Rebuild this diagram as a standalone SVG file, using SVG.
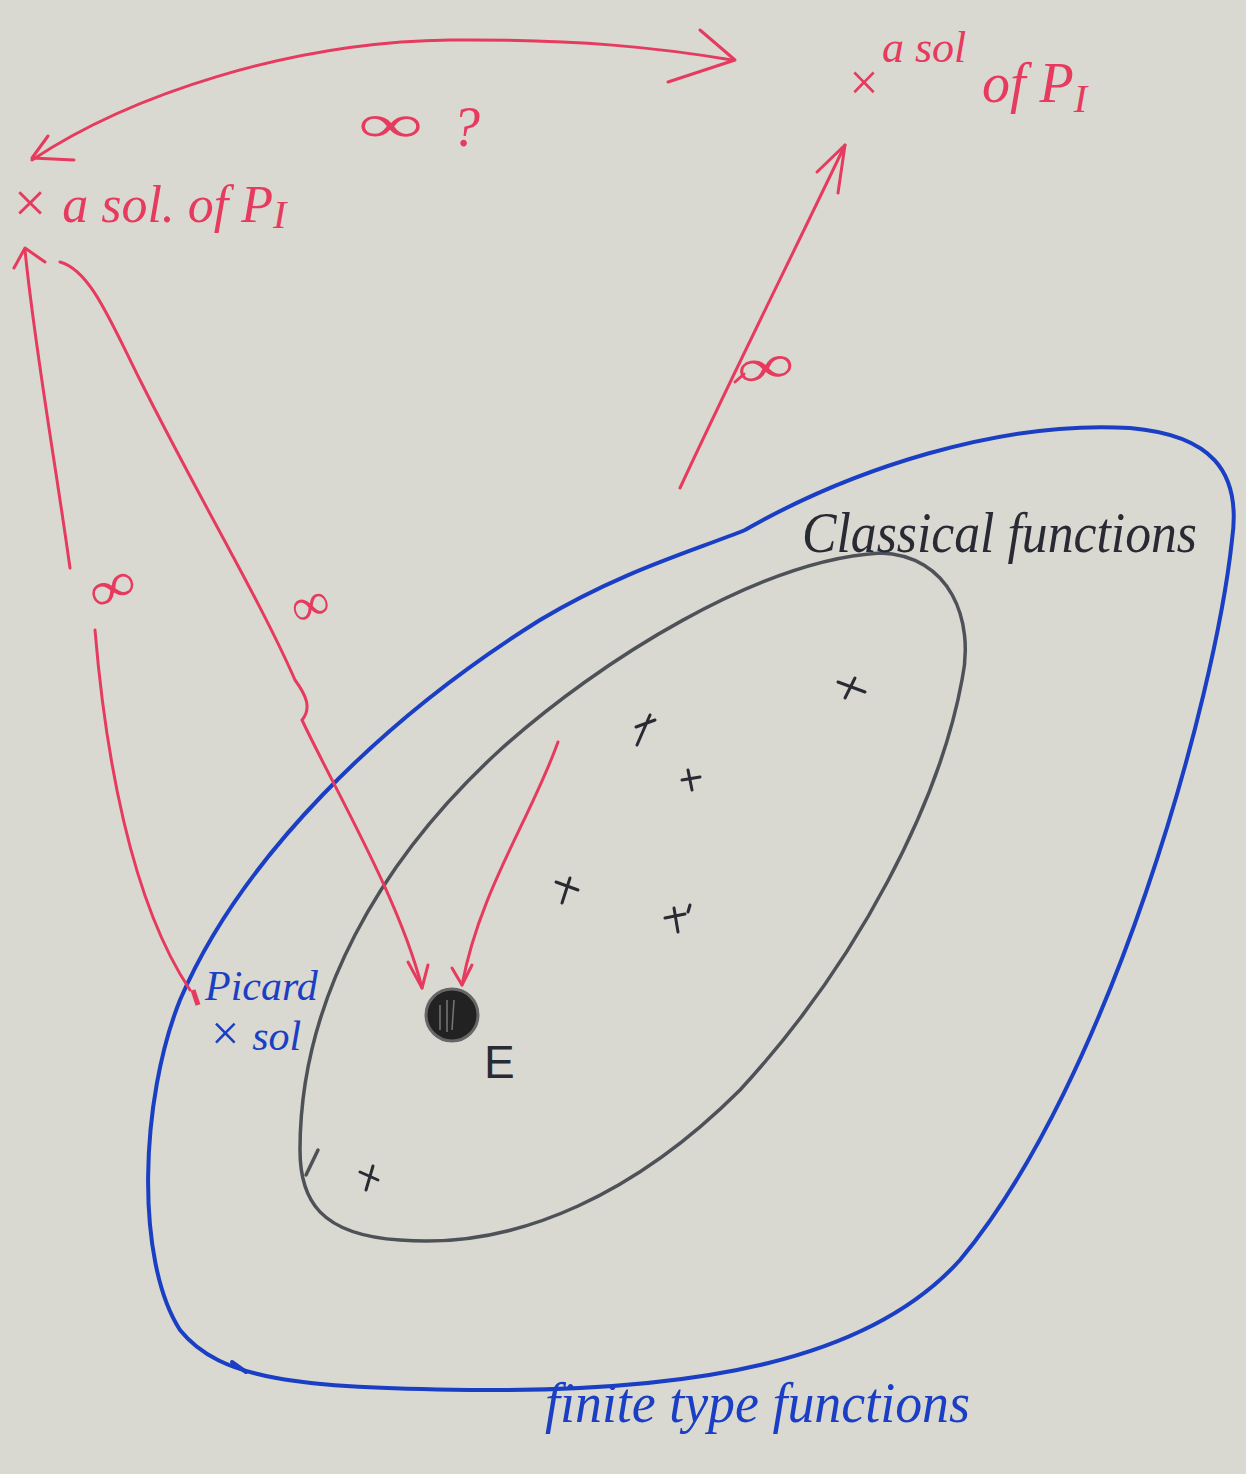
<svg xmlns="http://www.w3.org/2000/svg" width="1246" height="1474" viewBox="0 0 1246 1474">
<style>
.red{fill:none;stroke:#e63a5e;stroke-width:3;stroke-linecap:round;stroke-linejoin:round}
.redt{fill:#e63a5e;font-family:"Liberation Serif",serif;font-style:italic}
.inf{fill:#e63a5e;font-family:"Liberation Serif",serif}
.blue{fill:none;stroke:#1a3fc4;stroke-width:4;stroke-linecap:round}
.bluet{fill:#1a3fc4;font-family:"Liberation Serif",serif;font-style:italic}
.grey{fill:none;stroke:#4e5258;stroke-width:3.5;stroke-linecap:round}
.blk{fill:none;stroke:#2a2a35;stroke-width:3;stroke-linecap:round}
.blkt{fill:#2a2a35;font-family:"Liberation Serif",serif;font-style:italic}
</style>
<rect width="1246" height="1474" fill="#d9d9d1"/>

<g id="finite-type-functions">
<path class="blue" d="M 745 530 C 850 470, 1000 420, 1130 428 C 1210 435, 1242 470, 1232 540 C 1215 700, 1110 1080, 960 1260 C 870 1360, 700 1392, 470 1390 C 300 1388, 220 1380, 180 1330 C 135 1260, 140 1100, 180 1000 C 240 860, 380 720, 540 620 C 620 572, 690 552, 745 530 Z"/>
<path class="blue" d="M 232 1362 L 246 1372" />
<text class="bluet" x="545" y="1422" font-size="56" textLength="425" lengthAdjust="spacingAndGlyphs">finite type functions</text>
</g>

<g id="classical-functions">
<path class="grey" d="M 880 553 C 950 555, 975 620, 962 680 C 940 800, 860 960, 740 1090 C 640 1190, 520 1250, 400 1240 C 320 1235, 300 1200, 300 1150 C 300 1000, 380 860, 500 750 C 600 660, 760 560, 880 553 Z"/>
<path class="grey" d="M 306 1175 L 318 1150" />
<text class="blkt" x="802" y="552" font-size="58" textLength="395" lengthAdjust="spacingAndGlyphs">Classical functions</text>
</g>

<g id="crosses">
<path class="blk" d="M 838 682 L 865 692 M 855 678 L 845 698"/>
<path class="blk" d="M 636 727 L 655 720 M 650 715 L 637 745"/>
<path class="blk" d="M 682 780 L 700 777 M 688 770 L 692 790"/>
<path class="blk" d="M 556 882 L 578 890 M 570 878 L 562 903"/>
<path class="blk" d="M 665 918 L 685 914 M 674 908 L 678 932 M 690 905 L 688 912"/>
<path class="blk" d="M 360 1172 L 378 1180 M 373 1166 L 366 1190"/>
</g>

<g id="E">
<circle cx="452" cy="1015" r="26" fill="#222" stroke="#666" stroke-width="3"/>
<path d="M 440 1005 L 440 1030 M 447 1000 L 447 1032 M 454 1000 L 452 1030" stroke="#777" stroke-width="1.5" fill="none"/>
<text x="484" y="1078" font-size="46" fill="#2a2a35" font-family="Liberation Sans, sans-serif">E</text>
</g>

<g id="picard">
<text class="bluet" x="205" y="1000" font-size="42">Picard</text>
<text class="bluet" x="208" y="1050" font-size="42"><tspan font-size="50">×</tspan> sol</text>
</g>

<g id="sol-left">
<text class="redt" x="10" y="222" font-size="52"><tspan font-size="58">×</tspan> a sol. of P<tspan font-size="40" dy="6">I</tspan></text>
</g>

<g id="sol-right">
<text class="redt" x="846" y="100" font-size="52">×</text>
<text class="redt" x="882" y="62" font-size="44">a sol</text>
<text class="redt" x="982" y="102" font-size="56">of P<tspan font-size="40" dy="10">I</tspan></text>
</g>

<g id="connectors">
<path class="red" d="M 32 160 C 130 95, 290 42, 450 40 C 580 39, 660 48, 732 60"/>
<path class="red" d="M 48 136 L 32 158 L 74 160"/>
<path class="red" d="M 700 30 L 735 60 L 668 82"/>
<text class="inf" x="0" y="0" font-size="54" transform="translate(358,142) scale(1.7,1)">∞</text>
<text class="redt" x="452" y="146" font-size="56">?</text>

<path class="red" d="M 70 568 C 55 460, 35 350, 25 250"/>
<path class="red" d="M 14 268 L 25 248 L 45 262"/>
<path class="red" d="M 95 630 C 105 750, 130 900, 190 990"/>
<path d="M 193 990 L 198 1005" stroke="#e63a5e" stroke-width="5" fill="none"/>
<text class="inf" x="0" y="0" font-size="56" transform="translate(98,614) rotate(-25) scale(1.2,1)">∞</text>

<path class="red" d="M 60 262 C 90 270, 110 320, 140 380 C 200 500, 260 600, 295 680 C 306 695, 312 708, 302 720 C 335 790, 400 900, 422 988"/>
<path class="red" d="M 408 962 L 422 988 L 428 965"/>
<text class="inf" x="0" y="0" font-size="54" transform="translate(298,628) rotate(-20)">∞</text>

<path class="red" d="M 558 742 C 530 820, 480 890, 462 985"/>
<path class="red" d="M 452 968 L 462 985 L 472 965"/>

<path class="red" d="M 680 488 C 730 380, 790 260, 845 145"/>
<path class="red" d="M 817 172 L 845 145 L 838 193"/>
<path class="red" d="M 735 382 L 744 374"/>
<text class="inf" x="0" y="0" font-size="54" transform="translate(740,389) rotate(-10) scale(1.5,1)">∞</text>
</g>
</svg>
